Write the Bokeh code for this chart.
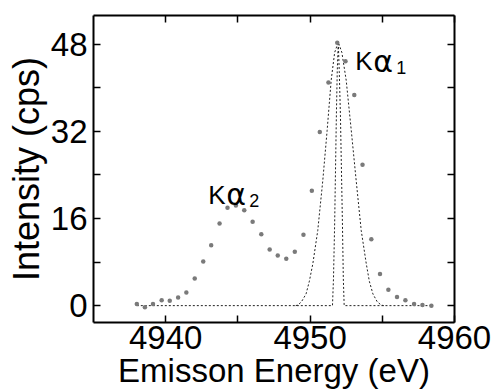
from bokeh.plotting import figure
from bokeh.models import Range1d, LinearAxis, FixedTicker, Label, Title
from bokeh.embed import file_html
from bokeh.resources import INLINE

# measured data points
energy = [4938.0, 4938.56, 4939.12, 4939.72, 4940.28, 4940.86, 4941.43, 4942.01,
          4942.6, 4943.15, 4943.73, 4944.28, 4944.86, 4945.44, 4946.02, 4946.62,
          4947.2, 4947.76, 4948.35, 4948.94, 4949.54, 4950.12, 4950.67, 4951.27,
          4951.88, 4952.45, 4953.06, 4953.63, 4954.24, 4954.84, 4955.42, 4956.02,
          4956.6, 4957.2, 4957.78, 4958.4]
intensity = [0.3, -0.3, 0.3, 1.0, 0.9, 1.5, 2.4, 5.0, 8.1, 11.1, 15.1, 18.0, 18.4,
             17.5, 15.4, 13.1, 10.3, 9.2, 8.6, 9.9, 13.0, 21.1, 31.9, 41.0, 48.3,
             44.9, 38.7, 25.9, 12.2, 5.8, 2.9, 1.6, 1.0, 0.3, 0.1, 0.0]

# broad calculated profile
wide_x = [4949.0, 4949.15, 4949.4, 4949.72, 4949.95, 4950.19, 4950.53, 4950.88,
          4951.18, 4951.46, 4951.7, 4951.95, 4952.2, 4952.5, 4952.85, 4953.19,
          4953.54, 4953.89, 4954.1, 4954.35, 4954.65, 4954.93, 4955.1]
wide_y = [0.0, 0.1, 0.7, 2.15, 4.5, 7.7, 13.8, 23.0, 32.2, 41.4, 46.5, 48.4, 46.5,
          41.4, 32.2, 23.0, 13.8, 7.7, 4.5, 2.15, 0.7, 0.1, 0.0]

# narrow calculated profile (with baseline)
narrow_x = [4938.0, 4951.55, 4951.62, 4951.7, 4951.76, 4951.82, 4951.88, 4951.95,
            4952.02, 4952.1, 4952.17, 4952.24, 4952.3, 4952.36, 4958.4]
narrow_y = [0.0, 0.0, 5.0, 15.0, 25.0, 35.0, 43.0, 48.4, 43.0, 35.0, 25.0, 15.0,
            5.0, 0.0, 0.0]

x_labelled = [4940, 4950, 4960]
x_unlabelled = [4945, 4955]
y_labelled = [0, 16, 32, 48]
y_unlabelled = [8, 24, 40]

X_TITLE = "Emisson Energy (eV)"
Y_TITLE = "Intensity (cps)"

FONT = "Liberation Sans"

p = figure(width=497, height=392, output_backend="svg", toolbar_location=None,
           x_range=Range1d(4935, 4960), y_range=Range1d(-3.1, 53.3),
           min_border_left=93, min_border_right=43, min_border_top=15,
           min_border_bottom=70)
p.grid.visible = False
p.outline_line_color = None
p.background_fill_color = "white"
p.border_fill_color = "white"

p.line(wide_x, wide_y, line_color="#222222", line_width=1, line_dash="2 2")
p.line(narrow_x, narrow_y, line_color="#222222", line_width=1, line_dash="2 2")
p.scatter(energy, intensity, size=4.5, fill_color="#7a7a7a", line_color=None)

bottom = p.below[0]
left = p.left[0]
bottom.ticker = FixedTicker(ticks=x_labelled, minor_ticks=x_unlabelled)
left.ticker = FixedTicker(ticks=y_labelled, minor_ticks=y_unlabelled)

top = LinearAxis(ticker=FixedTicker(ticks=[], minor_ticks=x_labelled + x_unlabelled))
right = LinearAxis(ticker=FixedTicker(ticks=[], minor_ticks=y_labelled + y_unlabelled))
p.add_layout(top, "above")
p.add_layout(right, "right")

for ax in [bottom, left, top, right]:
    ax.axis_line_color = "black"
    ax.axis_line_width = 2
    ax.major_tick_line_color = "black"
    ax.major_tick_line_width = 1.5
    ax.major_tick_in = 7
    ax.major_tick_out = 0
    ax.minor_tick_line_color = "black"
    ax.minor_tick_line_width = 1.5
    ax.minor_tick_in = 7
    ax.minor_tick_out = 0
    ax.major_label_text_font = FONT
    ax.major_label_text_font_size = "33px"
    ax.major_label_text_color = "black"

for ax in [top, right]:
    ax.major_label_standoff = 0

bottom.axis_label = X_TITLE
bottom.axis_label_text_font = FONT
bottom.axis_label_text_font_size = "33px"
bottom.axis_label_text_font_style = "normal"
bottom.axis_label_text_color = "black"
bottom.major_label_standoff = 3
bottom.axis_label_standoff = 0
left.major_label_standoff = 6

# vertical title on the left, shifted slightly downward like the original
p.add_layout(Title(text=Y_TITLE, align="center", offset=30, standoff=2,
                   text_font=FONT, text_font_size="36px",
                   text_font_style="normal", text_color="black"), "left")

# peak labels
def peak_label(x, y, sub, sub_dy):
    p.add_layout(Label(x=x, y=y, text="K", text_font=FONT,
                       text_font_size="26px", text_color="black",
                       text_baseline="alphabetic"))
    p.add_layout(Label(x=x, y=y, x_offset=18, text="α", text_font="DejaVu Sans",
                       text_font_size="30px", text_color="black",
                       text_baseline="alphabetic"))
    p.add_layout(Label(x=x, y=y, x_offset=41, y_offset=sub_dy, text=sub,
                       text_font=FONT, text_font_size="18px", text_color="black",
                       text_baseline="alphabetic"))

peak_label(4953.12, 44.9, "1", -6)
peak_label(4942.94, 20.4, "2", -6)

open("out.html", "w").write(file_html(p, INLINE))
